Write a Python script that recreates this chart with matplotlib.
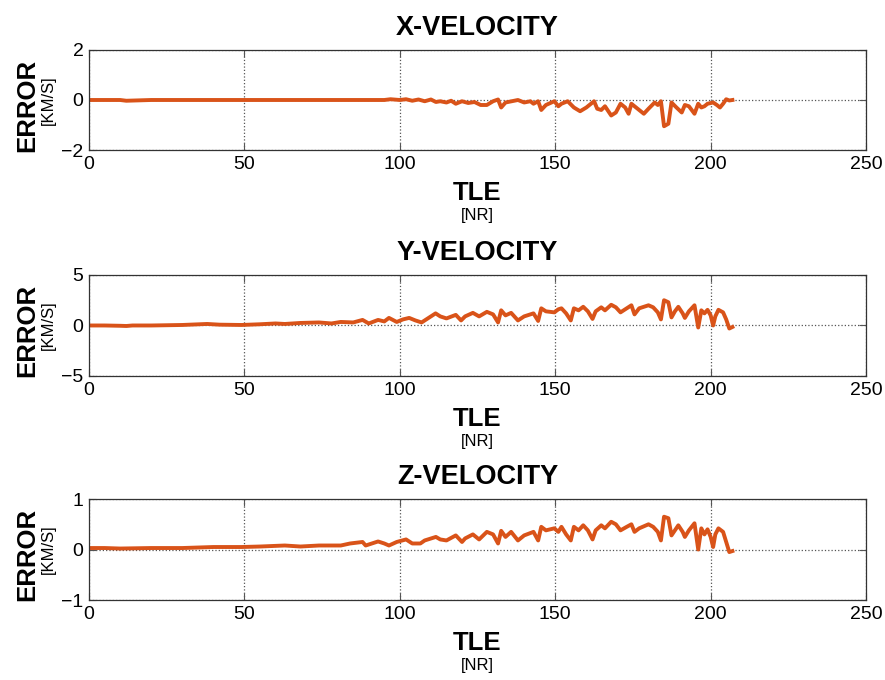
import numpy as np
import matplotlib
matplotlib.use("Agg")
import matplotlib.pyplot as plt

plt.rcParams['font.family'] = ['Liberation Sans', 'DejaVu Sans']

# TLE number vs. velocity error [km/s]
x_tle = [0, 10, 12, 20, 50, 95, 97, 100, 102, 104, 106, 108, 110, 111.6, 113, 115, 116.5,
         118, 120, 122, 124, 126, 128, 130, 131.6, 132.6, 134, 136, 138, 140, 142, 143,
         144.5, 145.5, 147, 149.7, 151, 152, 154, 156, 158, 160, 162.5, 163.5, 164.8, 166,
         168, 169.5, 171, 172.5, 173.6, 174.5, 176, 178.5, 180, 182, 183, 184, 185, 186.4,
         187.4, 189, 190.7, 191.7, 193, 194.8, 196, 197, 198, 199, 200.8, 202, 203, 204,
         205, 206, 207]
x_err = [0.0, 0.0, -0.03, 0.0, 0.0, 0.0, 0.03, 0.0, 0.03, -0.03, 0.02, -0.05, 0.02, -0.08,
         -0.05, -0.1, -0.03, -0.15, -0.05, -0.12, -0.08, -0.2, -0.2, -0.05, 0.02, -0.3, -0.1,
         -0.05, 0.0, -0.1, -0.05, -0.15, -0.05, -0.4, -0.2, -0.05, -0.25, -0.15, -0.05, -0.3,
         -0.45, -0.3, -0.05, -0.35, -0.4, -0.25, -0.62, -0.5, -0.15, -0.3, -0.55, -0.15, -0.3,
         -0.55, -0.35, -0.1, -0.2, -0.05, -1.05, -0.95, -0.1, -0.3, -0.5, -0.2, -0.25, -0.55,
         -0.15, -0.3, -0.25, -0.15, -0.1, -0.2, -0.3, -0.15, 0.03, -0.02, 0.0]

y_tle = [0, 5, 10, 12, 14, 20, 30, 38, 42, 49, 55, 60, 63, 68, 74, 78, 81, 85, 88, 90, 93,
         95, 96.5, 99, 101, 103, 105, 107, 109, 111.5, 113, 115, 118, 119.7, 121, 123.5,
         125.5, 128, 130, 131.6, 132.6, 134, 135.8, 138, 140, 143, 144.5, 145.5, 147, 149.7,
         151, 152, 153.5, 155, 156, 157.5, 159, 160.5, 162, 163, 164.8, 166, 168, 169.5, 171,
         173, 174.5, 175.5, 177, 180, 181.5, 183, 184, 185, 186.4, 187.4, 188.5, 189.6, 191,
         191.7, 193, 194.8, 196, 197, 198, 199, 200, 200.8, 201.5, 202.5, 204, 205, 206, 207]
y_err = [0.0, 0.0, -0.03, -0.05, 0.0, 0.0, 0.05, 0.15, 0.08, 0.05, 0.12, 0.2, 0.15, 0.25,
         0.3, 0.2, 0.35, 0.3, 0.55, 0.2, 0.55, 0.4, 0.75, 0.35, 0.6, 0.75, 0.5, 0.3, 0.7, 1.2,
         0.9, 0.7, 1.05, 0.5, 0.9, 1.25, 0.9, 1.35, 1.1, 0.3, 1.5, 1.0, 1.25, 0.5, 0.9, 1.2,
         0.45, 1.7, 1.4, 1.3, 1.6, 1.7, 1.2, 0.5, 1.7, 1.5, 1.85, 1.4, 0.65, 1.4, 1.8, 1.5,
         2.05, 1.8, 1.3, 1.7, 2.0, 1.1, 1.7, 2.0, 1.8, 1.3, 0.6, 2.5, 2.3, 0.8, 1.4, 1.85, 1.2,
         0.75, 1.4, 2.0, -0.2, 1.5, 1.2, 1.55, 1.0, 0.0, 0.9, 1.55, 1.3, 0.6, -0.3, -0.15]

z_tle = [0, 5, 10, 20, 30, 40, 49, 55, 63, 68, 74, 81, 84, 88, 89, 93, 95, 96.5, 99, 102,
         104, 106.6, 108, 111.6, 113, 115, 118, 120, 121, 123.5, 125.5, 128, 130, 131.6,
         132.6, 134, 135.8, 138, 140, 143, 144.5, 145.5, 147, 149.7, 151, 152, 153.5, 155,
         156, 157.5, 159, 160.5, 162, 163, 164.8, 166, 168, 169.5, 171, 173, 174.5, 175.5,
         177, 180, 181.5, 183, 184, 185, 186.4, 187.4, 188.5, 189.6, 191, 191.7, 193, 194.8,
         196, 197, 198, 199, 200, 200.8, 201.5, 202.5, 204, 205, 206, 207]
z_err = [0.03, 0.03, 0.02, 0.03, 0.03, 0.05, 0.05, 0.06, 0.08, 0.06, 0.08, 0.08, 0.12, 0.15,
         0.08, 0.16, 0.12, 0.08, 0.15, 0.2, 0.12, 0.12, 0.18, 0.25, 0.2, 0.18, 0.28, 0.15,
         0.22, 0.3, 0.2, 0.35, 0.3, 0.12, 0.37, 0.25, 0.35, 0.18, 0.28, 0.35, 0.18, 0.45,
         0.38, 0.42, 0.35, 0.45, 0.3, 0.18, 0.45, 0.38, 0.48, 0.38, 0.2, 0.38, 0.48, 0.42,
         0.55, 0.5, 0.38, 0.45, 0.5, 0.35, 0.42, 0.5, 0.45, 0.35, 0.18, 0.65, 0.62, 0.28,
         0.38, 0.48, 0.35, 0.25, 0.38, 0.52, 0.0, 0.42, 0.3, 0.4, 0.25, 0.05, 0.3, 0.42, 0.35,
         0.15, -0.05, -0.03]

titles = ['X-VELOCITY', 'Y-VELOCITY', 'Z-VELOCITY']
ylims = [2, 5, 1]
series = [(x_tle, x_err), (y_tle, y_err), (z_tle, z_err)]
x_ticks = [0, 50, 100, 150, 200, 250]

line_color = '#D95319'

fig = plt.figure(figsize=(8.85, 6.8), dpi=100)
# axes boxes in figure fractions [left, bottom, width, height]
boxes = [[0.1006, 0.7794, 0.878, 0.1471],
         [0.1006, 0.4471, 0.878, 0.1485],
         [0.1006, 0.1176, 0.878, 0.1485]]

for box, title, lim, (xs, ys) in zip(boxes, titles, ylims, series):
    ax = fig.add_axes(box)
    ax.plot(xs, ys, color=line_color, linewidth=2.8, solid_joinstyle='round')
    ax.set_xlim(0, 250)
    ax.set_ylim(-lim, lim)
    ax.set_xticks(x_ticks)
    ax.set_yticks([-lim, 0, lim])
    ax.grid(True, linestyle=':', color='#555555', linewidth=0.9)
    ax.tick_params(direction='in', top=True, right=True, labelsize=14,
                   length=5, color='#555555', pad=4)
    for spine in ax.spines.values():
        spine.set_color('#333333')
        spine.set_linewidth(0.9)

    ax.set_title(title, fontsize=19.5, fontweight='bold', pad=11)
    ax.text(0.5, -0.43, 'TLE', transform=ax.transAxes, ha='center', va='center',
            fontsize=18.5, fontweight='bold')
    ax.text(0.5, -0.65, '[NR]', transform=ax.transAxes, ha='center', va='center',
            fontsize=12)
    ax.text(-0.079, 0.45, 'ERROR', transform=ax.transAxes, ha='center', va='center',
            rotation=90, fontsize=18.5, fontweight='bold')
    ax.text(-0.052, 0.5, '[KM/S]', transform=ax.transAxes, ha='center', va='center',
            rotation=90, fontsize=12)

fig.savefig('out.png', dpi=100)
